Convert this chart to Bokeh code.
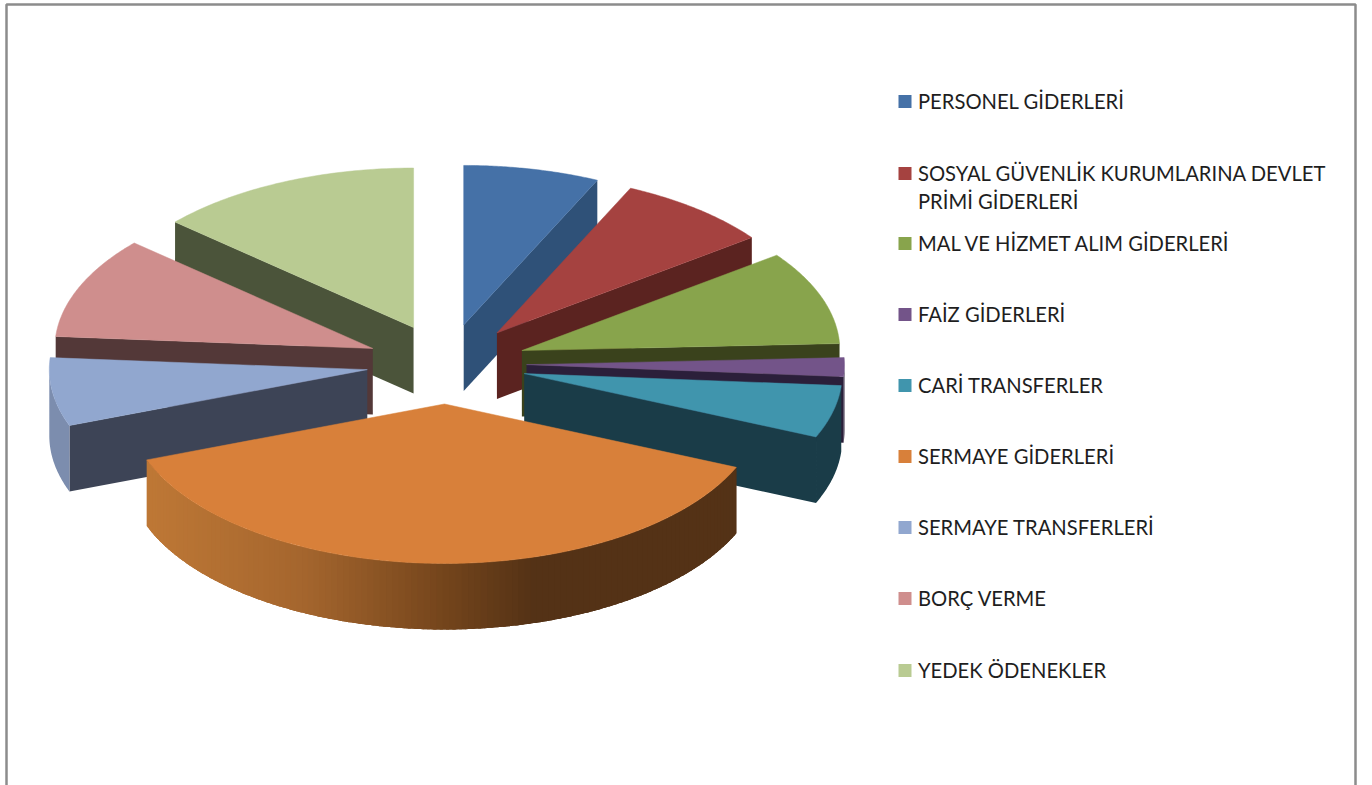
import numpy as np
from bokeh.plotting import figure
from bokeh.embed import file_html
from bokeh.resources import INLINE
from bokeh.core.properties import value

categories = ["PERSONEL GİDERLERİ", "SOSYAL GÜVENLİK KURUMLARINA DEVLET\nPRİMİ GİDERLERİ",
              "MAL VE HİZMET ALIM GİDERLERİ", "FAİZ GİDERLERİ", "CARİ TRANSFERLER",
              "SERMAYE GİDERLERİ", "SERMAYE TRANSFERLERİ", "BORÇ VERME", "YEDEK ÖDENEKLER"]
shares = [6.9, 7.9, 9.5, 1.9, 5.3, 37.8, 6.9, 10.3, 13.5]
top_colors = ["#4571A7", "#A54240", "#88A44C", "#735489", "#4095AD", "#D8803A", "#91A7CF", "#CF8E8D", "#B9CB92"]
face_colors = ["#2F5178", "#5B2320", "#3A421C", "#2B1F3A", "#1A3C48", "#543014", "#3D4456", "#533838", "#4B543A"]
wall_colors = ["#2F5178", "#5B2320", "#3A421C", "#2B1F3A", "#1A3C48", "#543014", "#7C8DAE", "#533838", "#4B543A"]
legend_y = [101, 173, 243, 314, 385, 456, 527, 598, 670]
draw_order = [0, 1, 2, 3, 4, 8, 7, 6, 5]

CX, CY, RX, RY, EX, EY, DEPTH = 446, 363.5, 318, 159.5, 80, 40, 66

p = figure(width=1372, height=785, x_range=(0, 1372), y_range=(785, 0),
           output_backend="svg", toolbar_location=None, min_border=0,
           background_fill_color="white", border_fill_color="white", outline_line_color=None)
p.styles = {"position": "absolute", "left": "0px", "top": "0px"}
p.axis.visible = False
p.grid.visible = False

p.multi_line([[6, 6, 1355, 1355]], [[785, 4, 4, 785]], line_color="#8C8C8C", line_width=2.5)

frac = np.array(shares) / sum(shares) * 2 * np.pi
ends = np.cumsum(frac)
starts = ends - frac


def rim(ax, ay, a):
    return ax + RX * np.sin(a), ay - RY * np.cos(a)


def lerp_orange(x):
    stops_x = [148, 300, 440, 530]
    r = np.interp(x, stops_x, [190, 165, 116, 84])
    g = np.interp(x, stops_x, [120, 102, 69, 50])
    b = np.interp(x, stops_x, [54, 46, 28, 22])
    return "#%02X%02X%02X" % (int(r), int(g), int(b))


for i in draw_order:
    a0, a1 = starts[i], ends[i]
    mid = (a0 + a1) / 2
    ax, ay = CX + EX * np.sin(mid), CY - EY * np.cos(mid)
    xs, ys, cs = [], [], []
    for a, vis in ((a0, np.sin(a0) < 0), (a1, np.sin(a1) > 0)):
        if vis:
            rx, ry = rim(ax, ay, a)
            xs.append([ax, rx, rx, ax])
            ys.append([ay, ry, ry + DEPTH, ay + DEPTH])
            cs.append(face_colors[i])
    w0, w1 = max(a0, np.pi / 2), min(a1, 3 * np.pi / 2)
    if w1 > w0:
        if i == 5:
            # gradient wall painted from the right end to the left, each strip overlapping the last
            edges = np.linspace(w0, w1, 120)
            for t0, t1 in zip(edges[:-1], edges[1:]):
                tt = np.linspace(max(w0, t0 - 0.03), t1, 6)
                wx, wy = rim(ax, ay, tt)
                xs.append(list(wx) + list(wx[::-1]))
                ys.append(list(wy) + list((wy + DEPTH)[::-1]))
                cs.append(lerp_orange(wx.mean()))
        else:
            tt = np.linspace(w0, w1, 40)
            wx, wy = rim(ax, ay, tt)
            xs.append(list(wx) + list(wx[::-1]))
            ys.append(list(wy) + list((wy + DEPTH)[::-1]))
            cs.append(wall_colors[i])
    p.patches(xs, ys, fill_color=cs, line_color=None)
    tt = np.linspace(a0, a1, 60)
    tx, ty = rim(ax, ay, tt)
    p.patch([ax] + list(tx), [ay] + list(ty), fill_color=top_colors[i], line_color=top_colors[i], line_width=0.5)

p.scatter([904.5] * 9, legend_y, size=13, marker="square", fill_color=top_colors, line_color=top_colors, line_width=0)

tx, ty, lab = [], [], []
for name, y in zip(categories, legend_y):
    for k, line in enumerate(name.split("\n")):
        tx.append(917.5)
        ty.append(y - 1 + k * 28)
        lab.append(line)
p.text(tx, ty, text=lab, text_font=value("Lato"), text_font_size="20.2px",
       text_color="#1E1E1E", text_baseline="middle", text_align="left")

open("out.html", "w").write(file_html(p, INLINE))
